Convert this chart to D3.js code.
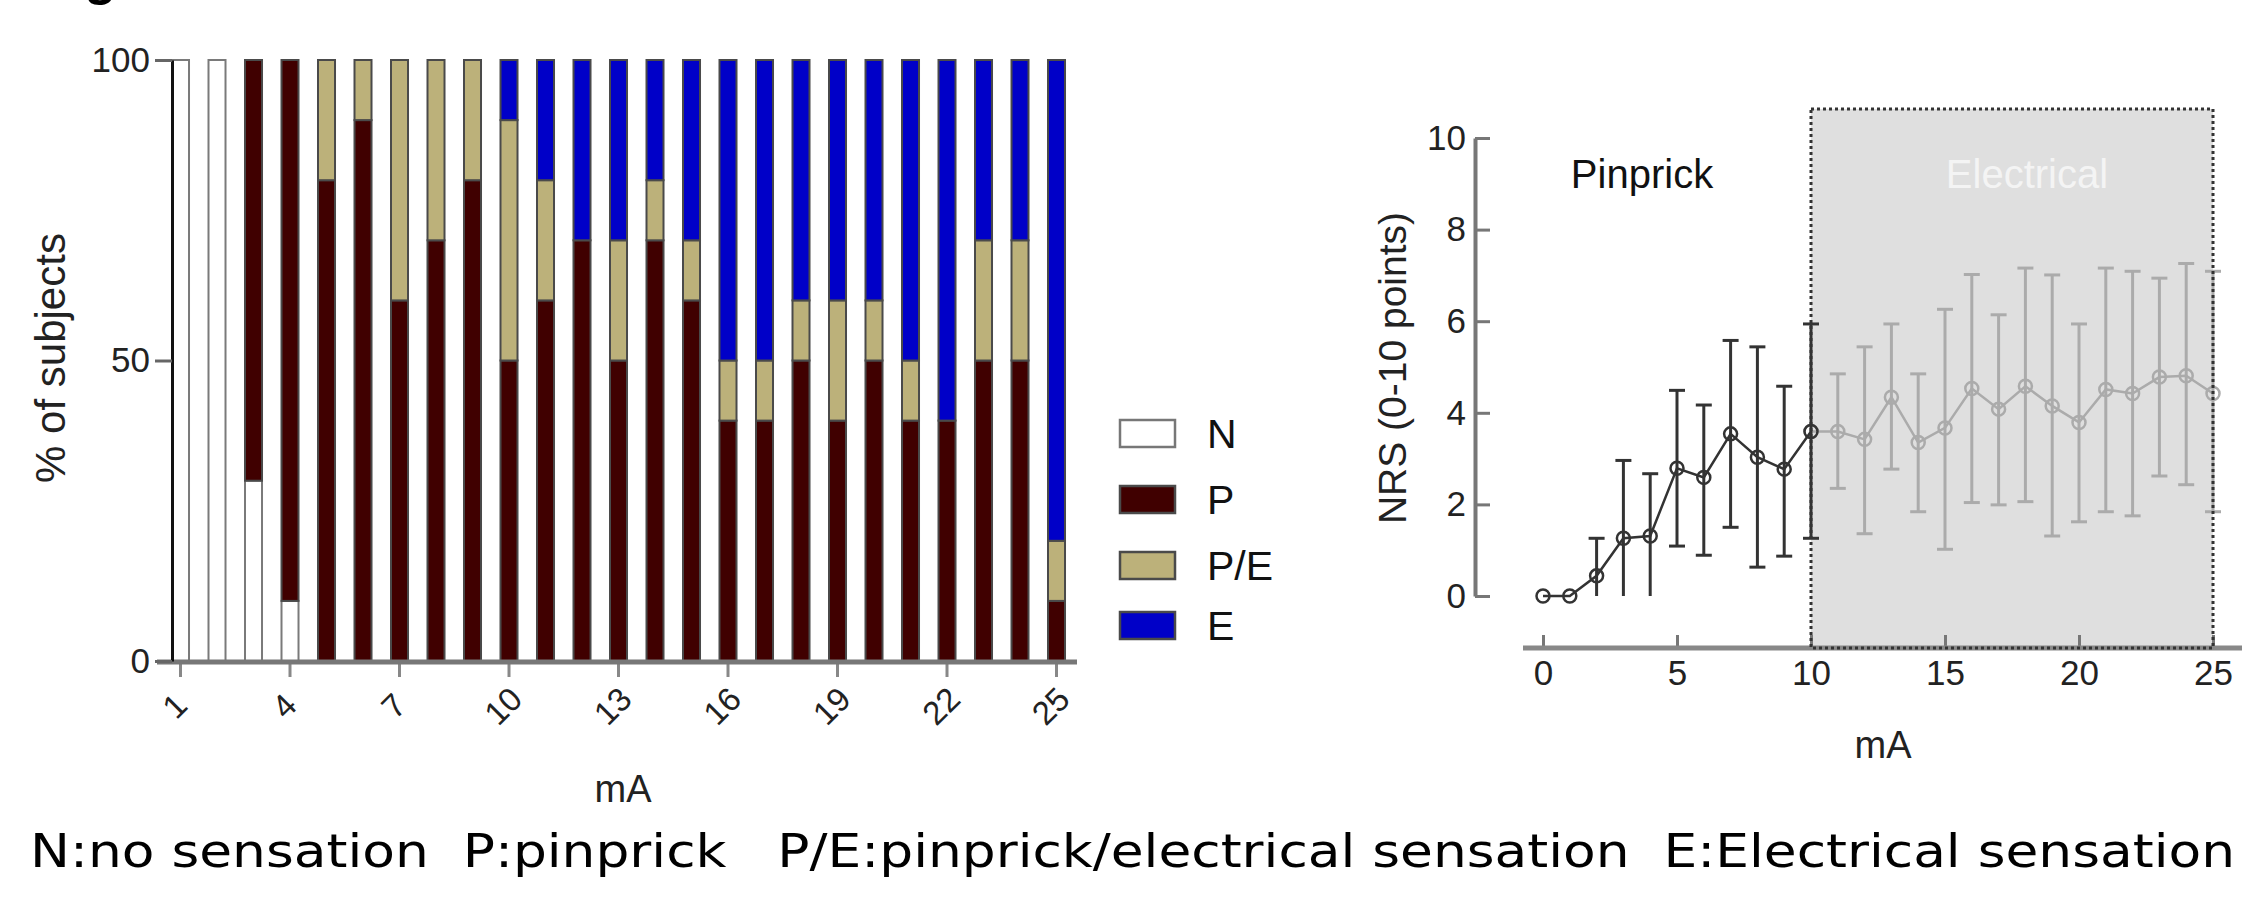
<!DOCTYPE html>
<html lang="en">
<head>
	<meta charset="UTF-8">
	<title>Sensation by current</title>
	<style>
		body { margin: 0; background: #fff; }
		svg { display: block; font-family: "Liberation Sans", Arial, sans-serif; }
	</style>
</head>
<body>
	<script src="https://d3js.org/d3.v7.min.js"></script>
	<script type="text/javascript">
		// left chart: % of subjects per current step
		var mA = [1,2,3,4,5,6,7,8,9,10,11,12,13,14,15,16,17,18,19,20,21,22,23,24,25];
		var pctN  = [100,100,30,10,0,0,0,0,0,0,0,0,0,0,0,0,0,0,0,0,0,0,0,0,0];
		var pctP  = [0,0,70,90,80,90,60,70,80,50,60,70,50,70,60,40,40,50,40,50,40,40,50,50,10];
		var pctPE = [0,0,0,0,20,10,40,30,20,40,20,0,20,10,10,10,10,10,20,10,10,0,20,20,10];
		var pctE  = [0,0,0,0,0,0,0,0,0,10,20,30,30,20,30,50,50,40,40,40,50,60,30,30,80];
		var sensKeys = ["N","P","P/E","E"];
		var sensColors = ["#ffffff","#400000","#bcb17a","#0000c8"];
		var barTicks = [1,4,7,10,13,16,19,22,25];
		var pctTicks = [0,50,100];

		// right chart: NRS mean and error bar ends
		var nrsX = [0,1,2,3,4,5,6,7,8,9,10,11,12,13,14,15,16,17,18,19,20,21,22,23,24,25];
		var nrsMean = [0,0,0.44,1.26,1.31,2.79,2.59,3.54,3.03,2.77,3.59,3.59,3.42,4.34,3.35,3.67,4.53,4.08,4.58,4.15,3.79,4.51,4.42,4.78,4.81,4.42];
		var nrsHigh = [null,null,1.26,2.96,2.67,4.49,4.17,5.58,5.44,4.58,5.94,4.85,5.44,5.94,4.85,6.26,7.02,6.14,7.16,7.01,5.94,7.16,7.09,6.94,7.26,7.09];
		var nrsLow  = [null,null,0,0,0,1.09,0.89,1.5,0.63,0.87,1.26,2.35,1.36,2.77,1.84,1.02,2.04,1.99,2.06,1.31,1.62,1.84,1.75,2.62,2.43,1.84];
		var nrsTicksX = [0,5,10,15,20,25];
		var nrsTicksY = [0,2,4,6,8,10];
		var caption = "N:no sensation  P:pinprick   P/E:pinprick/electrical sensation  E:Electrical sensation";

		var svg = d3.select("body").append("svg").attr("width",2267).attr("height",903);

		// cut-off figure letter at the very top
		svg.append("text").attr("x",88).attr("y",-6).attr("font-size",52).attr("font-weight","bold")
			.attr("font-style","italic").text("g");

		//---------- stacked bars ----------
		var rows = mA.map(function(m,i){
			return {mA:m, "N":pctN[i], "P":pctP[i], "P/E":pctPE[i], "E":pctE[i]};
		});
		var series = d3.stack().keys(sensKeys)(rows);

		var xb = d3.scaleBand().domain(mA).range([172, 172 + 36.5*(25-0.534)])
			.paddingInner(0.534).paddingOuter(0);
		var yb = d3.scaleLinear().domain([0,100]).range([661,60]);
		var color = d3.scaleOrdinal().domain(sensKeys).range(sensColors);

		var gBars = svg.append("g");
		series.forEach(function(s){
			gBars.selectAll(null).data(s.filter(function(d){ return d[1] > d[0]; })).enter().append("rect")
				.attr("x",function(d){ return xb(d.data.mA); })
				.attr("width",xb.bandwidth())
				.attr("y",function(d){ return yb(d[1]); })
				.attr("height",function(d){ return yb(d[0]) - yb(d[1]); })
				.attr("fill",color(s.key))
				.attr("stroke", s.key == "N" ? "#7a7a7a" : "#4a4a4a")
				.attr("stroke-width",2);
		});

		// x axis (gray, ticks down, labels rotated)
		var axB = svg.append("g").attr("transform","translate(0,662)")
			.call(d3.axisBottom(xb).tickValues(barTicks).tickSizeInner(15).tickSizeOuter(0).tickFormat(d3.format("d")));
		axB.select(".domain").remove();
		axB.append("line").attr("x1",157).attr("x2",1077).attr("stroke","#777").attr("stroke-width",5);
		axB.selectAll(".tick line").attr("stroke","#888").attr("stroke-width",3);
		axB.selectAll(".tick text")
			.attr("font-size",33).attr("fill","#222").attr("font-family","Liberation Sans, Arial, sans-serif")
			.attr("text-anchor","middle").attr("dy",null).attr("dominant-baseline","central")
			.attr("transform","translate(-6,44) rotate(-45)").attr("y",0).attr("x",0);

		var axL = svg.append("g").attr("transform","translate(172,0)")
			.call(d3.axisLeft(yb).tickValues(pctTicks).tickSizeInner(17).tickSizeOuter(0).tickPadding(5));
		axL.select(".domain").attr("stroke","#111").attr("stroke-width",3);
		axL.selectAll(".tick line").attr("stroke","#666").attr("stroke-width",3);
		axL.selectAll(".tick text").attr("font-size",35).attr("fill","#222").attr("font-family","Liberation Sans, Arial, sans-serif");

		svg.append("text").attr("transform","translate(50,358) rotate(-90)")
			.attr("text-anchor","middle").attr("dominant-baseline","central")
			.attr("font-size",42).attr("fill","#222").text("% of subjects");
		svg.append("text").attr("x",623).attr("y",802).attr("text-anchor","middle")
			.attr("font-size",38).attr("fill","#222").text("mA");

		// legend
		var leg = svg.append("g").selectAll("g").data(sensKeys).enter().append("g")
			.attr("transform",function(d,i){ return "translate(1120," + [420,486,552,612][i] + ")"; });
		leg.append("rect").attr("width",55).attr("height",27)
			.attr("fill",function(d){ return color(d); })
			.attr("stroke",function(d){ return d == "N" ? "#777" : "#4a4a4a"; }).attr("stroke-width",2.5);
		leg.append("text").attr("x",87).attr("y",14).attr("dominant-baseline","central")
			.attr("font-size",41).attr("fill","#111").text(function(d){ return d; });

		//---------- NRS line chart ----------
		var xn = d3.scaleLinear().domain([0,25]).range([1543,2213]);
		var yn = d3.scaleLinear().domain([0,10]).range([596,138]);

		// shaded electrical zone
		svg.append("rect").attr("x",xn(10)).attr("y",109).attr("width",xn(25)-xn(10)).attr("height",648-109)
			.attr("fill","#dfdfdf");

		svg.append("text").attr("x",1642).attr("y",188).attr("text-anchor","middle")
			.attr("font-size",40).attr("fill","#111").text("Pinprick");
		svg.append("text").attr("x",2027).attr("y",188).attr("text-anchor","middle")
			.attr("font-size",40).attr("fill","#f4f4f4").text("Electrical");

		var pts = nrsX.map(function(x,i){ return {x:x, m:nrsMean[i], lo:nrsLow[i], hi:nrsHigh[i]}; });
		var pinPts = pts.filter(function(d){ return d.x <= 10; });
		var elePts = pts.filter(function(d){ return d.x >= 10; });

		function drawSeries(data, col, skipFirstBar){
			var g = svg.append("g");
			var withErr = data.filter(function(d,i){ return d.hi != null && !(skipFirstBar && i == 0); });
			g.selectAll(".eb").data(withErr).enter().append("line")
				.attr("x1",function(d){ return xn(d.x); }).attr("x2",function(d){ return xn(d.x); })
				.attr("y1",function(d){ return yn(d.lo); }).attr("y2",function(d){ return yn(d.hi); })
				.attr("stroke",col).attr("stroke-width",3);
			g.selectAll(".capHi").data(withErr).enter().append("line")
				.attr("x1",function(d){ return xn(d.x) - 8; }).attr("x2",function(d){ return xn(d.x) + 8; })
				.attr("y1",function(d){ return yn(d.hi); }).attr("y2",function(d){ return yn(d.hi); })
				.attr("stroke",col).attr("stroke-width",3);
			g.selectAll(".capLo").data(withErr.filter(function(d){ return d.lo > 0; })).enter().append("line")
				.attr("x1",function(d){ return xn(d.x) - 8; }).attr("x2",function(d){ return xn(d.x) + 8; })
				.attr("y1",function(d){ return yn(d.lo); }).attr("y2",function(d){ return yn(d.lo); })
				.attr("stroke",col).attr("stroke-width",3);
			g.append("path").datum(data)
				.attr("d",d3.line().x(function(d){ return xn(d.x); }).y(function(d){ return yn(d.m); }))
				.attr("fill","none").attr("stroke",col).attr("stroke-width",2.5);
			g.selectAll("circle").data(data).enter().append("circle")
				.attr("cx",function(d){ return xn(d.x); }).attr("cy",function(d){ return yn(d.m); })
				.attr("r",6.5).attr("fill","none").attr("stroke",col).attr("stroke-width",2.5);
		}
		drawSeries(elePts, "#ababab", true);
		drawSeries(pinPts, "#333333", false);

		var axNX = svg.append("g").attr("transform","translate(0,648)")
			.call(d3.axisBottom(xn).tickValues(nrsTicksX).tickSizeInner(-13).tickSizeOuter(0).tickPadding(12));
		axNX.select(".domain").remove();
		axNX.append("line").attr("x1",1523).attr("x2",2242).attr("stroke","#888").attr("stroke-width",5);
		axNX.selectAll(".tick line").attr("stroke","#777").attr("stroke-width",3);
		axNX.selectAll(".tick text").attr("font-size",35).attr("fill","#222").attr("font-family","Liberation Sans, Arial, sans-serif");

		// dotted border of the zone
		svg.append("rect").attr("x",xn(10)).attr("y",109).attr("width",xn(25)-xn(10)).attr("height",648-109)
			.attr("fill","none").attr("stroke","#333").attr("stroke-width",3).attr("stroke-dasharray","3,3");

		var axNY = svg.append("g").attr("transform","translate(1475,0)")
			.call(d3.axisLeft(yn).tickValues(nrsTicksY).tickSizeInner(-15).tickSizeOuter(0).tickPadding(9));
		axNY.select(".domain").attr("stroke","#777").attr("stroke-width",4);
		axNY.selectAll(".tick line").attr("stroke","#777").attr("stroke-width",3);
		axNY.selectAll(".tick text").attr("font-size",35).attr("fill","#222").attr("font-family","Liberation Sans, Arial, sans-serif");

		svg.append("text").attr("transform","translate(1392,368) rotate(-90)")
			.attr("text-anchor","middle").attr("dominant-baseline","central")
			.attr("font-size",39).attr("fill","#222").text("NRS (0-10 points)");
		svg.append("text").attr("x",1883).attr("y",758).attr("text-anchor","middle")
			.attr("font-size",38).attr("fill","#222").text("mA");

		//---------- caption ----------
		svg.append("text").attr("x",30).attr("y",867)
			.attr("font-family","DejaVu Sans, sans-serif").attr("font-size",46).attr("fill","#000")
			.attr("xml:space","preserve").style("white-space","pre")
			.attr("textLength",2205).attr("lengthAdjust","spacingAndGlyphs")
			.text(caption);
	</script>
</body>
</html>
